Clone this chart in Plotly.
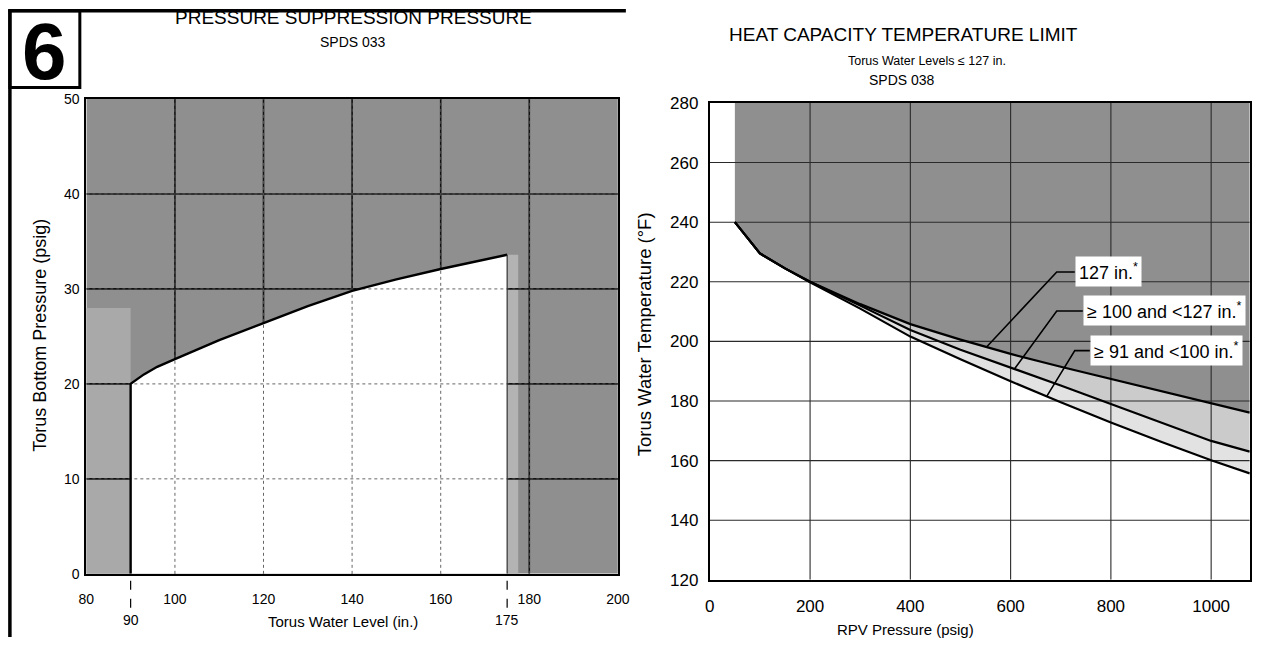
import plotly.graph_objects as go
import numpy as np

# ---------------- Left chart: Pressure Suppression Pressure ----------------
pspp_level_in = [90, 93, 96, 100, 110, 120, 130, 140, 150, 160, 170, 175]
pspp_press_psig = [20.0, 21.0, 21.8, 22.6, 24.6, 26.4, 28.2, 29.8, 31.0, 32.1, 33.1, 33.6]
left_xticks = [80, 100, 120, 140, 160, 180, 200]
left_yticks = [0, 10, 20, 30, 40, 50]
left_special_ticks = [90, 175]
left_xrange = [80, 200]
left_yrange = [0, 50]

# ---------------- Right chart: Heat Capacity Temperature Limit ----------------
hctl_rpv_psig = [50, 100, 150, 200, 300, 400, 500, 600, 700, 800, 900, 1000, 1077]
hctl_127 = [240, 229.5, 224.5, 220, 212.5, 205.8, 200.6, 195.8, 191.5, 187.4, 183.2, 179.2, 176.1]
hctl_100_127 = [240, 229.5, 224.5, 220, 212.0, 203.8, 197.2, 191.3, 185.2, 179.0, 172.8, 166.6, 163.0]
hctl_91_100 = [240, 229.5, 224.5, 219.8, 211.0, 201.6, 194.0, 186.6, 179.6, 172.8, 166.3, 160.1, 155.7]
right_xticks = [0, 200, 400, 600, 800, 1000]
right_yticks = [120, 140, 160, 180, 200, 220, 240, 260, 280]
right_xrange = [0, 1077]
right_yrange = [120, 280]
curve_labels = ["127 in.<sup>*</sup>", "\u2265 100 and <127 in.<sup>*</sup>", "\u2265 91 and <100 in.<sup>*</sup>"]
label_anchor_psig = [552, 608, 672]          # where each leader touches its curve
label_knee = [(692, 223.3), (692, 210.2), (728, 196.9)]   # leader elbow (label layout)
label_box_left = [728, 744, 758]              # left edge of each label box (label layout)

FONT = "Liberation Sans, Arial, sans-serif"
DARK = "#8f8f8f"

fig = go.Figure()


def grid_xy(xt, yt, xr, yr):
    gx, gy = [], []
    for v in xt:
        if xr[0] < v < xr[1]:
            gx += [v, v, None]
            gy += [yr[0], yr[1], None]
    for v in yt:
        if yr[0] < v < yr[1]:
            gx += [xr[0], xr[1], None]
            gy += [v, v, None]
    return gx, gy


def rect(x0, x1, y0, y1):
    return [x0, x1, x1, x0, x0], [y0, y0, y1, y1, y0]


# ---- left traces ----
rx, ry = rect(left_xrange[0], left_xrange[1], left_yrange[0], left_yrange[1])
fig.add_trace(go.Scatter(x=rx, y=ry, fill="toself", fillcolor=DARK, line=dict(width=0), mode="lines",
                         hoverinfo="skip", xaxis="x", yaxis="y"))
rx, ry = rect(left_xrange[0], left_special_ticks[0], 0, 28)
fig.add_trace(go.Scatter(x=rx, y=ry, fill="toself", fillcolor="#a9a9a9", line=dict(width=0), mode="lines",
                         hoverinfo="skip", xaxis="x", yaxis="y"))
rx, ry = rect(left_special_ticks[1], left_special_ticks[1] + 2.5, 0, pspp_press_psig[-1])
fig.add_trace(go.Scatter(x=rx, y=ry, fill="toself", fillcolor="#b3b3b3", line=dict(width=0), mode="lines",
                         hoverinfo="skip", xaxis="x", yaxis="y"))
gx, gy = grid_xy(left_xticks, left_yticks, left_xrange, left_yrange)
fig.add_trace(go.Scatter(x=gx, y=gy, mode="lines", line=dict(color="#111111", width=1.6),
                         hoverinfo="skip", xaxis="x", yaxis="y"))
fig.add_trace(go.Scatter(
    x=[pspp_level_in[0]] + pspp_level_in + [pspp_level_in[-1]],
    y=[0] + pspp_press_psig + [0],
    fill="toself", fillcolor="white", line=dict(width=0), mode="lines",
    hoverinfo="skip", xaxis="x", yaxis="y"))
fig.add_trace(go.Scatter(x=gx, y=gy, mode="lines", line=dict(color="#555555", width=0.9, dash="dot"),
                         hoverinfo="skip", xaxis="x", yaxis="y"))
fig.add_trace(go.Scatter(
    x=[pspp_level_in[0]] + pspp_level_in, y=[0] + pspp_press_psig,
    mode="lines", line=dict(color="black", width=2.4), hoverinfo="skip", xaxis="x", yaxis="y"))
fig.add_trace(go.Scatter(
    x=[pspp_level_in[-1], pspp_level_in[-1]], y=[pspp_press_psig[-1], 0],
    mode="lines", line=dict(color="#333333", width=1.2), hoverinfo="skip", xaxis="x", yaxis="y"))

# ---- right traces ----
fig.add_trace(go.Scatter(
    x=[hctl_rpv_psig[0]] + hctl_rpv_psig + [hctl_rpv_psig[-1], hctl_rpv_psig[0]],
    y=[right_yrange[1]] + hctl_127 + [right_yrange[1], right_yrange[1]],
    fill="toself", fillcolor=DARK, line=dict(width=0), mode="lines",
    hoverinfo="skip", xaxis="x2", yaxis="y2"))
fig.add_trace(go.Scatter(
    x=hctl_rpv_psig + hctl_rpv_psig[::-1], y=hctl_127 + hctl_100_127[::-1],
    fill="toself", fillcolor="#cbcbcb", line=dict(width=0), mode="lines",
    hoverinfo="skip", xaxis="x2", yaxis="y2"))
fig.add_trace(go.Scatter(
    x=hctl_rpv_psig + hctl_rpv_psig[::-1], y=hctl_100_127 + hctl_91_100[::-1],
    fill="toself", fillcolor="#e2e2e2", line=dict(width=0), mode="lines",
    hoverinfo="skip", xaxis="x2", yaxis="y2"))
gx2, gy2 = grid_xy(right_xticks, right_yticks, right_xrange, right_yrange)
fig.add_trace(go.Scatter(x=gx2, y=gy2, mode="lines", line=dict(color="#2a2a2a", width=1.1),
                         hoverinfo="skip", xaxis="x2", yaxis="y2"))
curve_sets = (hctl_127, hctl_100_127, hctl_91_100)
for ys in curve_sets:
    fig.add_trace(go.Scatter(x=hctl_rpv_psig, y=ys, mode="lines",
                             line=dict(color="black", width=2.2), hoverinfo="skip",
                             xaxis="x2", yaxis="y2"))

# leader lines: curve point -> elbow -> label box
for px_v, ys, (kx, ky), bx in zip(label_anchor_psig, curve_sets, label_knee, label_box_left):
    yv = float(np.interp(px_v, hctl_rpv_psig, ys))
    fig.add_trace(go.Scatter(x=[px_v, kx, bx], y=[yv, ky, ky], mode="lines",
                             line=dict(color="black", width=1.6), hoverinfo="skip",
                             xaxis="x2", yaxis="y2", cliponaxis=False))

# ---- layout ----
W, H = 1263, 647
# the photographed page shows a slight scale/offset; compensate so positions land where intended
SX, OX, SY, OY = 0.985, 7.6, 0.973, 9.8


def px_x(p):
    return min(1.0, max(0.0, ((p - OX) / SX) / W))


def px_y(p):
    return min(1.0, max(0.0, 1 - ((p - OY) / SY) / H))


def axis_common(size):
    return dict(showgrid=False, zeroline=False, showline=True, linecolor="black",
                linewidth=2, mirror=True, ticks="",
                tickfont=dict(family=FONT, size=size, color="black"))


fig.update_layout(
    width=W, height=H, margin=dict(l=0, r=0, t=0, b=0, pad=0), autosize=False,
    paper_bgcolor="white", plot_bgcolor="white", showlegend=False,
    font=dict(family=FONT, color="black"),
    xaxis=dict(domain=[px_x(86), px_x(618)], range=left_xrange, tickvals=left_xticks,
               anchor="y", ticklabelstandoff=11, **axis_common(14)),
    yaxis=dict(domain=[px_y(576), px_y(100)], range=left_yrange, tickvals=left_yticks,
               anchor="x", ticklabelstandoff=2, **axis_common(14)),
    xaxis2=dict(domain=[px_x(710), 0.999], range=right_xrange, tickvals=right_xticks,
                anchor="y2", ticklabelstandoff=10, **axis_common(17)),
    yaxis2=dict(domain=[px_y(582), px_y(104)], range=right_yrange, tickvals=right_yticks,
                anchor="x2", ticklabelstandoff=6, **axis_common(17)),
)

ann = []
shapes = []
# special ticks 90 / 175
for v in left_special_ticks:
    shapes.append(dict(type="line", xref="x", yref="paper", x0=v, x1=v,
                       y0=px_y(583), y1=px_y(613), line=dict(color="black", width=1.2, dash="dash")))
    ann.append(dict(text=str(v), xref="x", yref="paper", x=v, y=px_y(622), showarrow=False,
                    font=dict(size=14), xanchor="center", yanchor="middle"))

# axis titles
ann.append(dict(text="Torus Water Level (in.)", xref="paper", yref="paper", x=px_x(343), y=px_y(624),
                showarrow=False, font=dict(size=15), xanchor="center", yanchor="middle"))
ann.append(dict(text="Torus Bottom Pressure (psig)", xref="paper", yref="paper", x=px_x(40), y=px_y(337),
                showarrow=False, font=dict(size=18), textangle=-90, xanchor="center", yanchor="middle"))
ann.append(dict(text="RPV Pressure (psig)", xref="paper", yref="paper", x=px_x(906), y=px_y(632),
                showarrow=False, font=dict(size=15), xanchor="center", yanchor="middle"))
ann.append(dict(text="Torus Water Temperature (\u00b0F)", xref="paper", yref="paper", x=px_x(645), y=px_y(336),
                showarrow=False, font=dict(size=18.5), textangle=-90, xanchor="center", yanchor="middle"))

# titles
ann.append(dict(text="PRESSURE SUPPRESSION PRESSURE", xref="paper", yref="paper", x=px_x(353), y=px_y(18),
                showarrow=False, font=dict(size=19), xanchor="center", yanchor="middle"))
ann.append(dict(text="SPDS 033", xref="paper", yref="paper", x=px_x(353), y=px_y(43),
                showarrow=False, font=dict(size=14), xanchor="center", yanchor="middle"))
ann.append(dict(text="HEAT CAPACITY TEMPERATURE LIMIT", xref="paper", yref="paper", x=px_x(904), y=px_y(35),
                showarrow=False, font=dict(size=19), xanchor="center", yanchor="middle"))
ann.append(dict(text="Torus Water Levels \u2264 127 in.", xref="paper", yref="paper", x=px_x(927), y=px_y(62),
                showarrow=False, font=dict(size=12.5), xanchor="center", yanchor="middle"))
ann.append(dict(text="SPDS 038", xref="paper", yref="paper", x=px_x(902), y=px_y(81),
                showarrow=False, font=dict(size=14), xanchor="center", yanchor="middle"))

# big "6"
ann.append(dict(text="<b>6</b>", xref="paper", yref="paper", x=px_x(44), y=px_y(52),
                showarrow=False, font=dict(size=80), xanchor="center", yanchor="middle"))

# curve labels (boxes at the end of the leader lines)
for lbl, (kx, ky), bx in zip(curve_labels, label_knee, label_box_left):
    ann.append(dict(text=lbl, xref="x2", yref="y2", x=bx, y=ky, showarrow=False,
                    xanchor="left", yanchor="middle", bgcolor="white", borderpad=3,
                    font=dict(size=18)))

# frame around page / box for "6"
shapes += [
    dict(type="line", xref="paper", yref="paper", x0=px_x(8), x1=px_x(626), y0=px_y(11.5), y1=px_y(11.5),
         line=dict(color="black", width=3.5)),
    dict(type="line", xref="paper", yref="paper", x0=px_x(9.5), x1=px_x(9.5), y0=px_y(10), y1=0,
         line=dict(color="black", width=3.5)),
    dict(type="rect", xref="paper", yref="paper", x0=px_x(9.5), x1=px_x(79.5), y0=px_y(11.5), y1=px_y(88.5),
         line=dict(color="black", width=3)),
]

fig.update_layout(annotations=ann, shapes=shapes)
fig.write_html(
    "out.html",
    config={"displayModeBar": False},
    post_script="document.body.style.margin='0px';document.body.style.padding='0px';"
                "document.body.style.overflow='hidden';document.documentElement.style.overflow='hidden';",
)
